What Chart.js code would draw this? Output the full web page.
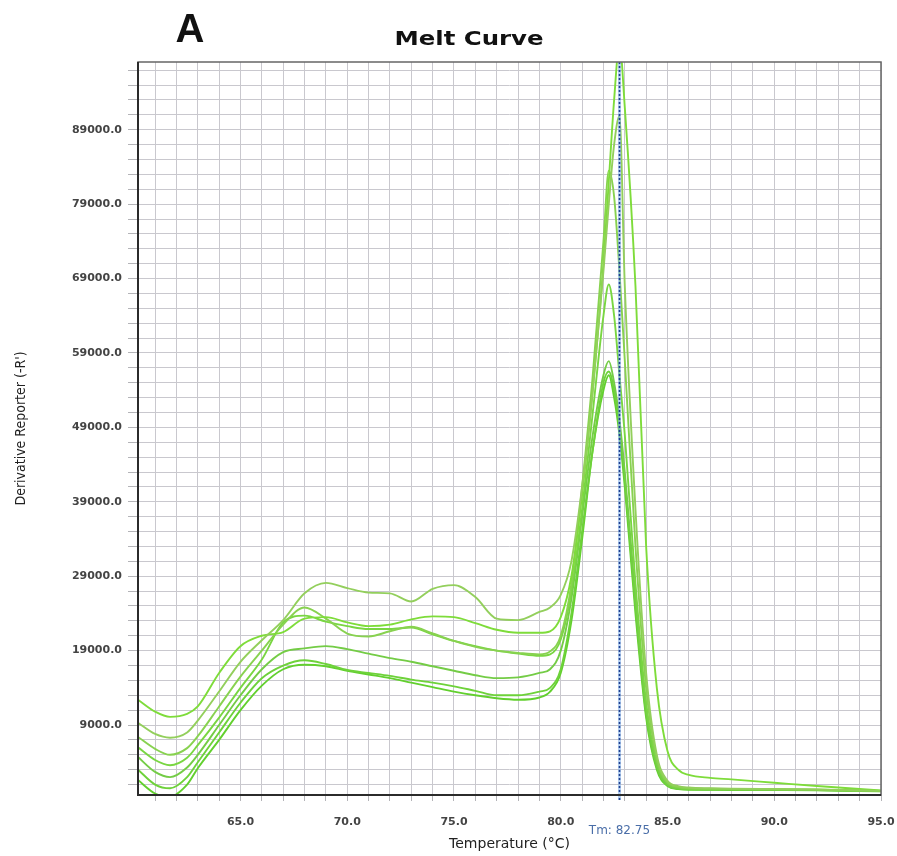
<!DOCTYPE html>
<html>
<head>
<meta charset="utf-8">
<title>Melt Curve</title>
<script src="https://cdn.jsdelivr.net/npm/chart.js@4.4.0/dist/chart.umd.min.js"></script>
<style>
  html, body { margin: 0; padding: 0; background: #fff; }
  #wrap { width: 897px; height: 856px; }
</style>
</head>
<body>
<div id="wrap"><canvas id="melt" width="897" height="856"></canvas></div>
<script>
// ========== DATA ==========
// temperature (°C) of each reading
const temps = [60.2, 61, 61.7, 62.5, 63, 64, 65, 66, 67, 68, 69, 70, 71, 72, 73, 74, 75, 76, 77, 78, 79,
  79.5, 80, 80.5, 81, 81.5, 82, 82.25, 82.5, 82.75, 83, 83.5, 84, 84.5, 85, 85.5, 86, 87, 88, 90, 92, 95];

// derivative reporter (-R') per well
const wellA = [9300, 7800, 7300, 8000, 9600, 13500, 17500, 20400, 23100, 26700, 28100, 27400, 26800, 26700, 25600, 27300, 27800, 26200, 23300, 23100, 24200,
  24800, 26500, 31000, 41000, 54000, 70000, 79000, 87000, 90800, 68000, 38000, 16000, 5000, 1500, 800, 600, 500, 450, 400, 350, 150];
const wellB = [12400, 10800, 10100, 10500, 11500, 16000, 19600, 21000, 21500, 23300, 23500, 22800, 22300, 22500, 23200, 23600, 23500, 22700, 21800, 21400, 21400,
  21600, 23500, 29000, 40000, 54000, 71000, 82000, 93000, 100500, 92000, 68000, 33000, 14000, 5500, 3000, 2300, 1900, 1700, 1250, 800, 200];
const wellC = [7400, 5800, 5000, 5900, 7500, 11500, 15500, 19000, 22500, 24800, 23300, 21300, 20900, 21600, 22200, 21300, 20300, 19500, 19000, 18700, 18500,
  18900, 21000, 28000, 41000, 56000, 74000, 83500, 80000, 70000, 58000, 33000, 14000, 4500, 1300, 700, 500, 450, 400, 350, 300, 150];
const wellD = [6000, 4300, 3600, 4600, 6300, 10000, 14000, 17800, 22800, 23700, 22900, 22300, 21900, 21900, 22100, 21200, 20300, 19600, 19000, 18600, 18300,
  18500, 20500, 27000, 38000, 51000, 64000, 68200, 64000, 56000, 48000, 28000, 12000, 4000, 1200, 600, 450, 400, 380, 350, 300, 150];
const wellE = [4700, 2700, 2000, 3300, 5000, 9000, 13000, 16500, 18800, 19300, 19600, 19200, 18600, 18000, 17500, 16900, 16300, 15700, 15300, 15400, 16000,
  16500, 19000, 26000, 37000, 48000, 56000, 57900, 55000, 50000, 43000, 26000, 11000, 3500, 1000, 500, 400, 380, 350, 320, 280, 150];
const wellF = [3000, 1000, 500, 2000, 4000, 8000, 12000, 15300, 17000, 17700, 17200, 16400, 16000, 15600, 15100, 14700, 14200, 13600, 13000, 13000, 13500,
  14000, 16500, 24000, 35000, 46000, 55000, 56500, 54000, 49000, 42000, 25000, 10500, 3300, 900, 450, 350, 330, 300, 280, 250, 120];
const wellG = [1600, -200, -600, 1000, 3200, 7000, 11000, 14300, 16500, 17100, 16900, 16300, 15800, 15300, 14700, 14100, 13500, 13000, 12600, 12400, 12700,
  13500, 16000, 23000, 34000, 46000, 54000, 56000, 53000, 48000, 41000, 24000, 10000, 3000, 800, 400, 300, 300, 280, 260, 230, 100];

const wells = [wellA, wellB, wellC, wellD, wellE, wellF, wellG];
const wellColors = ['#93cf5c', '#7edc3a', '#88d250', '#79d642', '#74cc46', '#6ed23a', '#62d02e'];

// labelled ticks and melting temperature
const xLabelTicks = [65, 70, 75, 80, 85, 90, 95];
const yLabelTicks = [9000, 19000, 29000, 39000, 49000, 59000, 69000, 79000, 89000];
const tmValue = 82.75;

// grid every 1 °C and every 2000 units
const gridX = [];
for (let t = 61; t <= 95; t++) gridX.push(t);
const gridY = [];
for (let v = 1000; v <= 97000; v += 2000) gridY.push(v);

// ========== PLUGIN: frame, Tm marker, headings ==========
const meltDecor = {
  id: 'meltDecor',
  afterDatasetsDraw(chart) {
    const { ctx, chartArea: a, scales: { x } } = chart;
    const tx = Math.round(x.getPixelForValue(tmValue)) + 0.5;
    ctx.save();
    ctx.strokeStyle = 'rgba(120,170,230,0.55)';
    ctx.lineWidth = 3;
    ctx.beginPath(); ctx.moveTo(tx, a.top); ctx.lineTo(tx, a.bottom + 5); ctx.stroke();
    ctx.strokeStyle = '#1f3f8f';
    ctx.lineWidth = 1.6;
    ctx.setLineDash([2, 2]);
    ctx.beginPath(); ctx.moveTo(tx, a.top); ctx.lineTo(tx, a.bottom + 5); ctx.stroke();
    ctx.restore();
  },
  afterDraw(chart) {
    const { ctx, chartArea: a, scales: { x } } = chart;
    ctx.save();
    // plot frame
    ctx.strokeStyle = '#666';
    ctx.lineWidth = 1.5;
    ctx.strokeRect(a.left, a.top, a.right - a.left, a.bottom - a.top);
    ctx.strokeStyle = '#2b2b2b';
    ctx.lineWidth = 2;
    ctx.beginPath();
    ctx.moveTo(a.left, a.top); ctx.lineTo(a.left, a.bottom); ctx.lineTo(a.right, a.bottom);
    ctx.stroke();

    // Tm label under the axis
    ctx.fillStyle = '#4a6ea8';
    ctx.font = '12px "DejaVu Sans"';
    ctx.textAlign = 'center';
    ctx.textBaseline = 'alphabetic';
    ctx.fillText('Tm: ' + tmValue.toFixed(2), x.getPixelForValue(tmValue), 834);

    // panel letter and title
    ctx.fillStyle = '#111';
    ctx.font = 'bold 40px "Liberation Sans"';
    ctx.fillText('A', 190, 42);
    ctx.save();
    ctx.translate(469, 45);
    ctx.scale(1.22, 1);
    ctx.font = 'bold 20px "DejaVu Sans"';
    ctx.fillText('Melt Curve', 0, 0);
    ctx.restore();
    ctx.restore();
  }
};

// ========== CHART ==========
const tickFont = { family: 'DejaVu Sans', weight: 'bold', size: 11 };

new Chart(document.getElementById('melt'), {
  type: 'line',
  data: {
    datasets: wells.map((w, i) => ({
      data: w.map((v, j) => ({ x: temps[j], y: v })),
      borderColor: wellColors[i],
      borderWidth: 1.9,
      pointRadius: 0,
      fill: false,
      cubicInterpolationMode: 'monotone'
    }))
  },
  options: {
    responsive: false,
    animation: false,
    layout: { padding: { top: 62, right: 16, left: 0, bottom: 0 } },
    plugins: { legend: { display: false }, tooltip: { enabled: false }, title: { display: false } },
    scales: {
      x: {
        type: 'linear', min: 60.2, max: 95,
        afterBuildTicks: s => { s.ticks = gridX.map(v => ({ value: v })); },
        afterFit: s => { s.height = 61; s.paddingLeft = 0; s.paddingRight = 0; },
        border: { display: false },
        grid: { color: '#c9c8ce', lineWidth: 1, tickLength: 6, tickColor: '#b4b4b8' },
        ticks: {
          autoSkip: false, maxRotation: 0, padding: 15, color: '#444', font: tickFont,
          callback: v => xLabelTicks.includes(v) ? v.toFixed(1) : ''
        },
        title: {
          display: true, text: 'Temperature (°C)', color: '#222',
          font: { family: 'DejaVu Sans', size: 14 }, padding: { top: 0, bottom: 3 }
        }
      },
      y: {
        type: 'linear', min: -400, max: 98100,
        afterBuildTicks: s => { s.ticks = gridY.map(v => ({ value: v })); },
        afterFit: s => { s.width = 138; s.paddingTop = 0; s.paddingBottom = 0; },
        border: { display: false },
        grid: { color: '#c9c8ce', lineWidth: 1, tickLength: 10, tickColor: '#b4b4b8' },
        ticks: {
          autoSkip: false, padding: 6, color: '#444', font: tickFont,
          callback: v => yLabelTicks.includes(v) ? v.toFixed(1) : ''
        },
        title: {
          display: true, text: "Derivative Reporter (-R')", color: '#222',
          font: { family: '"DejaVu Sans Condensed", "Liberation Sans", sans-serif', size: 14 }, padding: { top: 13 }
        }
      }
    }
  },
  plugins: [meltDecor]
});
</script>
</body>
</html>
